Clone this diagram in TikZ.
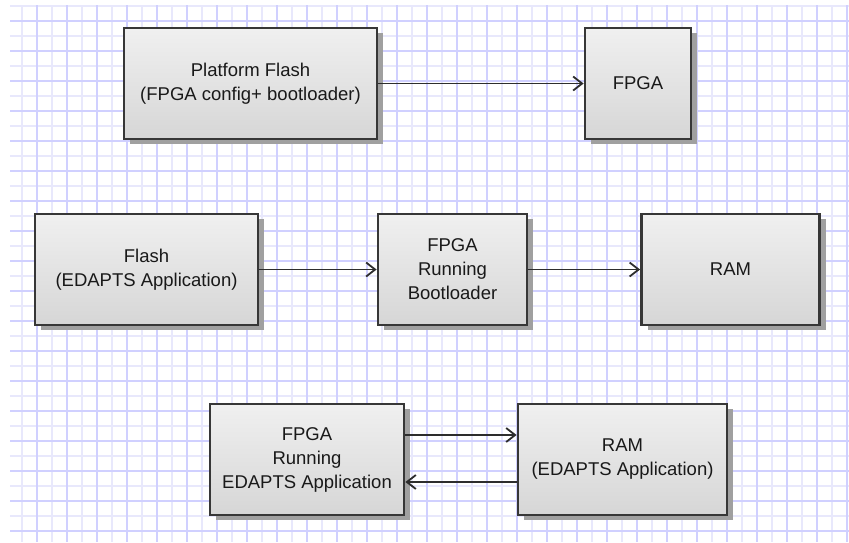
\documentclass[tikz,border=0pt]{standalone}
\usepackage{fontspec}
\setmainfont{Liberation Sans}
\usetikzlibrary{arrows.meta,shadows}
\definecolor{gridlight}{RGB}{232,232,252}
\definecolor{griddark}{RGB}{208,208,255}
\definecolor{boxborder}{RGB}{55,55,55}
\definecolor{boxtop}{RGB}{240,240,240}
\definecolor{boxbottom}{RGB}{214,214,214}
\definecolor{shadowgray}{RGB}{160,160,160}
\definecolor{arrowgray}{RGB}{45,45,45}
\tikzset{
  blockbox/.style={draw=boxborder, line width=2.8pt, top color=boxtop, bottom color=boxbottom,
    general shadow={fill=shadowgray, shadow xshift=6pt, shadow yshift=-5pt},
    align=center, inner sep=2pt, font=\fontsize{18.5}{24}\selectfont, text=black!90},
  flowarrow/.style={draw=arrowgray, line width=1.8pt, -{Straight Barb[length=9pt,width=14pt,line width=1.8pt]}},
  gridminor/.style={draw=gridlight, line width=1.8pt},
  gridmajor/.style={draw=griddark, line width=1.8pt}
}
\begin{document}
\begin{tikzpicture}[x=1pt,y=-1pt]
\useasboundingbox (0,0) rectangle (849,542);
\fill[white] (0,0) rectangle (849,542);
% grid
\foreach \k in {0,...,27} {
  \draw[gridminor] (22+30*\k,5) -- (22+30*\k,542);
}
\foreach \k in {0,...,17} {
  \draw[gridminor] (10,6+30*\k) -- (849,6+30*\k);
}
\foreach \k in {0,...,27} {
  \draw[gridmajor] (37+30*\k,5) -- (37+30*\k,542);
}
\foreach \k in {0,...,17} {
  \draw[gridmajor] (10,21+30*\k) -- (849,21+30*\k);
}
% boxes
\node[blockbox, minimum width=253pt, minimum height=111pt] (pf) at (250.5,83.5) {Platform Flash\\(FPGA config+ bootloader)};
\node[blockbox, minimum width=106pt, minimum height=111pt] (fpga) at (638,83.5) {FPGA};
\node[blockbox, minimum width=223pt, minimum height=111pt] (flash) at (146.5,269.5) {Flash\\(EDAPTS Application)};
\node[blockbox, minimum width=149pt, minimum height=111pt] (boot) at (452.5,269.5) {FPGA\\Running\\Bootloader};
\node[blockbox, minimum width=178pt, minimum height=111pt] (ram) at (730.5,269.5) {RAM};
\node[blockbox, minimum width=194pt, minimum height=111pt] (app) at (307,459.5) {FPGA\\Running\\EDAPTS Application};
\node[blockbox, minimum width=209pt, minimum height=111pt] (ramapp) at (622.5,459.5) {RAM\\(EDAPTS Application)};
% connectors
\draw[flowarrow] (pf.east) -- (fpga.west);
\draw[flowarrow] (flash.east) -- (boot.west);
\draw[flowarrow] (boot.east) -- (ram.west);
\coordinate (a1) at ([yshift=24.5pt]app.east);
\coordinate (b2) at ([yshift=-22.5pt]ramapp.west);
\draw[flowarrow] (a1) -- (a1 -| ramapp.west);
\draw[flowarrow] (b2) -- (b2 -| app.east);
\end{tikzpicture}
\end{document}
